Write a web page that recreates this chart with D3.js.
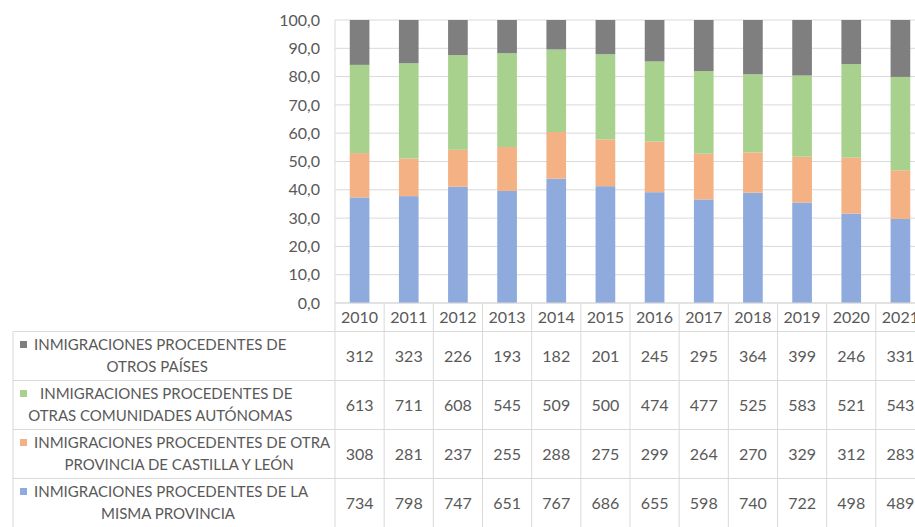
<!DOCTYPE html>
<html>
<head>
<meta charset="utf-8">
<script src="https://cdn.jsdelivr.net/npm/d3@7"></script>
<style>
  html, body { margin: 0; padding: 0; background: #fff; }
  svg { display: block; font-family: Lato, "Open Sans", sans-serif; }
</style>
</head>
<body>
<svg id="chart" width="915" height="527"></svg>
<script>
// ---- data ----
const years = ["2010","2011","2012","2013","2014","2015","2016","2017","2018","2019","2020","2021"];
const otrosPaises    = [312,323,226,193,182,201,245,295,364,399,246,331];
const otrasCCAA      = [613,711,608,545,509,500,474,477,525,583,521,543];
const otraProvCyL    = [308,281,237,255,288,275,299,264,270,329,312,283];
const mismaProvincia = [734,798,747,651,767,686,655,598,740,722,498,489];
const yTicks = [0,10,20,30,40,50,60,70,80,90,100];

// series in stack order (bottom to top)
const seriesKeys = ["misma","otraProv","otrasCCAA","otrosPaises"];
const seriesValues = { misma: mismaProvincia, otraProv: otraProvCyL, otrasCCAA: otrasCCAA, otrosPaises: otrosPaises };
const seriesColors = { misma: "#8faadc", otraProv: "#f4b183", otrasCCAA: "#a9d18e", otrosPaises: "#7f7f7f" };
// legend / table rows, top to bottom
const tableRows = [
  { key: "otrosPaises", l1: "INMIGRACIONES PROCEDENTES DE", l2: "OTROS PAÍSES", gap: 0 },
  { key: "otrasCCAA",   l1: "INMIGRACIONES PROCEDENTES DE", l2: "OTRAS COMUNIDADES AUTÓNOMAS", gap: 6 },
  { key: "otraProv",    l1: "INMIGRACIONES PROCEDENTES DE OTRA", l2: "PROVINCIA DE CASTILLA Y LEÓN", gap: 0 },
  { key: "misma",       l1: "INMIGRACIONES PROCEDENTES DE LA", l2: "MISMA PROVINCIA", gap: 0 }
];

const table = years.map((y, i) => {
  const o = { year: y };
  seriesKeys.forEach(k => o[k] = seriesValues[k][i]);
  return o;
});

// ---- layout ----
const svg = d3.select("#chart");
const textColor = "#595959";
const lineColor = "#d9d9d9";
const plotLeft = 335, plotRight = 925, plotTop = 20, plotBottom = 303;
const headerBottom = 331.5, rowH = 49;
const tableLeft = 13;

const x = d3.scaleBand().domain(years).range([plotLeft, plotRight]).paddingInner(0.6).paddingOuter(0.3);
const y = d3.scaleLinear().domain([0, 100]).range([plotBottom, plotTop]);
const loc = d3.formatLocale({ decimal: ",", thousands: ".", grouping: [3], currency: ["", "€"] });
const fmt = loc.format(".1f");

// gridlines
svg.append("g").selectAll("line").data(yTicks).join("line")
  .attr("x1", plotLeft).attr("x2", 915)
  .attr("y1", d => y(d)).attr("y2", d => y(d))
  .attr("stroke", lineColor).attr("stroke-width", 1);

// y axis line
svg.append("line").attr("x1", plotLeft).attr("x2", plotLeft)
  .attr("y1", y(100)).attr("y2", plotBottom).attr("stroke", lineColor);

// y axis labels
const yAxis = d3.axisLeft(y).tickValues(yTicks).tickFormat(fmt).tickSize(0).tickPadding(15);
const yg = svg.append("g").attr("transform", `translate(${plotLeft},0)`).call(yAxis);
yg.select(".domain").remove();
yg.selectAll("text").attr("fill", textColor).style("font-size", "16px").style("font-family", "Lato, sans-serif");

// stacked bars (normalized to 100)
const stack = d3.stack().keys(seriesKeys).offset(d3.stackOffsetExpand);
const stacked = stack(table);
svg.append("g").selectAll("g").data(stacked).join("g")
  .attr("fill", d => seriesColors[d.key])
  .selectAll("rect").data(d => d).join("rect")
  .attr("x", d => x(d.data.year))
  .attr("width", x.bandwidth())
  .attr("y", d => y(d[1] * 100))
  .attr("height", d => y(d[0] * 100) - y(d[1] * 100));

// ---- data table ----
const step = x.step();
const cellLeft = d => x(d) - step * x.paddingOuter();
const tableBottom = headerBottom + rowH * tableRows.length;

const tg = svg.append("g");
// category axis / header top
tg.append("line").attr("x1", plotLeft).attr("x2", 915).attr("y1", plotBottom).attr("y2", plotBottom).attr("stroke", lineColor);
// horizontal row lines
const hLines = d3.range(tableRows.length + 1).map(i => headerBottom + i * rowH);
tg.selectAll("line.h").data(hLines).join("line").attr("class", "h")
  .attr("x1", tableLeft).attr("x2", 915)
  .attr("y1", d => d).attr("y2", d => d).attr("stroke", lineColor);
// vertical lines
tg.append("line").attr("x1", tableLeft).attr("x2", tableLeft).attr("y1", headerBottom).attr("y2", tableBottom).attr("stroke", lineColor);
tg.selectAll("line.v").data(years).join("line").attr("class", "v")
  .attr("x1", d => cellLeft(d)).attr("x2", d => cellLeft(d))
  .attr("y1", plotBottom).attr("y2", tableBottom).attr("stroke", lineColor);

// year labels
tg.selectAll("text.yr").data(years).join("text").attr("class", "yr")
  .attr("x", d => x(d) + x.bandwidth() / 2)
  .attr("y", (plotBottom + headerBottom) / 2)
  .attr("dy", "0.36em")
  .attr("text-anchor", "middle")
  .attr("fill", textColor).style("font-size", "16px")
  .text(d => d);

// value cells
tableRows.forEach((row, ri) => {
  const cy = headerBottom + ri * rowH + rowH / 2;
  tg.append("g").selectAll("text").data(years).join("text")
    .attr("x", d => x(d) + x.bandwidth() / 2)
    .attr("y", cy).attr("dy", "0.36em")
    .attr("text-anchor", "middle")
    .attr("fill", textColor).style("font-size", "16px")
    .text((d, i) => seriesValues[row.key][i]);

  // legend
  const lg = tg.append("g");
  const markerX = 20, l1y = cy - 11, l2y = cy + 11;
  lg.append("rect").attr("x", markerX).attr("y", l1y - 4).attr("width", 7).attr("height", 7)
    .attr("fill", seriesColors[row.key]);
  const t1 = lg.append("text").attr("x", markerX + 14 + row.gap).attr("y", l1y).attr("dy", "0.36em")
    .attr("fill", textColor).style("font-size", "15px").text(row.l1);
  const w1 = t1.node().getComputedTextLength();
  const blockEnd = markerX + 14 + row.gap + w1;
  const center = (markerX + blockEnd) / 2 + 4;
  lg.append("text").attr("x", center).attr("y", l2y).attr("dy", "0.36em")
    .attr("text-anchor", "middle")
    .attr("fill", textColor).style("font-size", "15px").text(row.l2);
});
</script>
</body>
</html>
